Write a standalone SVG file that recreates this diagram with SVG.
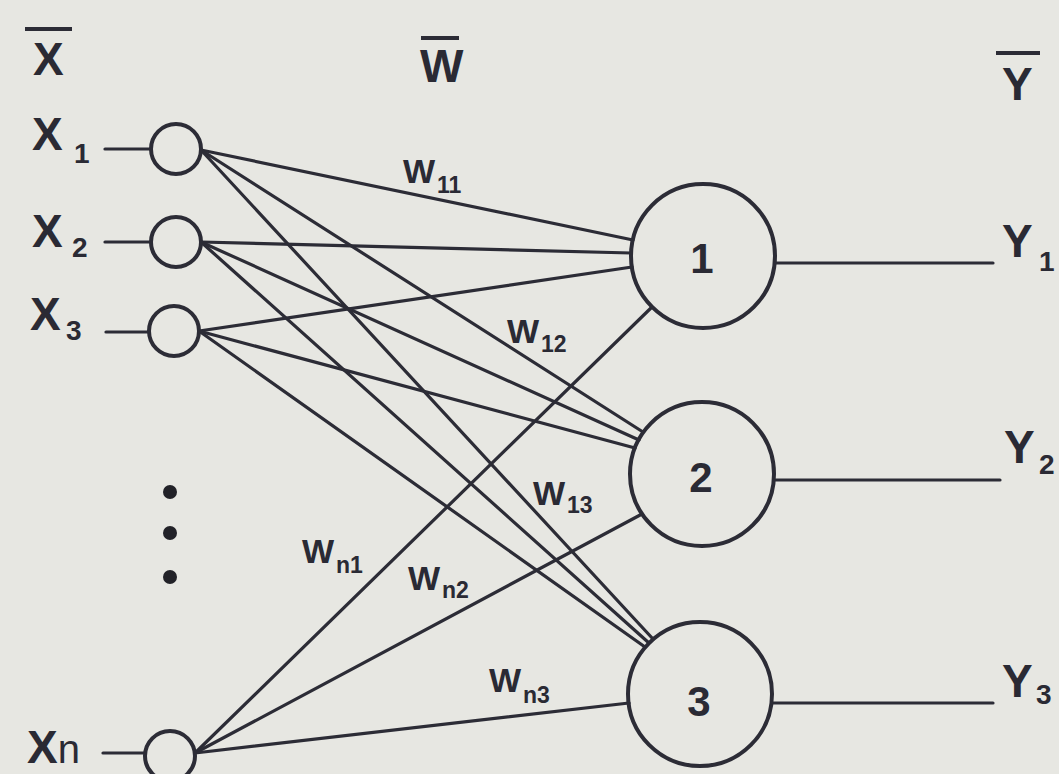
<svg xmlns="http://www.w3.org/2000/svg" width="1059" height="774" viewBox="0 0 1059 774">
<style>
.bg{fill:#e7e7e2}
.ln{stroke:#2c2c36;stroke-width:3.2;fill:none;stroke-linecap:round}
.nd{stroke:#2c2c36;stroke-width:4;fill:none}
.big{font-family:"Liberation Sans",Arial,sans-serif;font-weight:bold;font-size:46px;fill:#2a2a34}
.sub{font-family:"Liberation Sans",Arial,sans-serif;font-weight:bold;font-size:28px;fill:#2a2a34}
.num{font-family:"Liberation Sans",Arial,sans-serif;font-weight:bold;font-size:42px;fill:#2a2a34;text-anchor:middle}
.w{font-family:"Liberation Sans",Arial,sans-serif;font-weight:bold;font-size:34px;fill:#2a2a34}
.ws{font-family:"Liberation Sans",Arial,sans-serif;font-weight:bold;font-size:23px;fill:#2a2a34}
.bar{stroke:#2c2c36;stroke-width:4}
.dot{fill:#222228}
</style>
<rect class="bg" x="0" y="0" width="1059" height="774"/>

<g id="headers">
  <line class="bar" x1="25" y1="29" x2="72" y2="29"/>
  <text class="big" x="33" y="75">X</text>
  <line class="bar" x1="421" y1="38" x2="459" y2="38"/>
  <text class="big" x="420" y="82">W</text>
  <line class="bar" x1="996" y1="53" x2="1040" y2="53"/>
  <text class="big" x="1002" y="100">Y</text>
</g>

<g id="connectors">
  <line class="ln" x1="201" y1="150" x2="633" y2="240"/>
  <line class="ln" x1="201" y1="150" x2="643" y2="432"/>
  <line class="ln" x1="201" y1="150" x2="653" y2="639"/>
  <line class="ln" x1="201" y1="242" x2="631" y2="253"/>
  <line class="ln" x1="201" y1="242" x2="639" y2="440"/>
  <line class="ln" x1="201" y1="242" x2="649" y2="643"/>
  <line class="ln" x1="199" y1="331" x2="632" y2="267"/>
  <line class="ln" x1="199" y1="331" x2="635" y2="448"/>
  <line class="ln" x1="199" y1="331" x2="645" y2="647"/>
  <line class="ln" x1="195" y1="753" x2="652" y2="307"/>
  <line class="ln" x1="195" y1="753" x2="642" y2="514"/>
  <line class="ln" x1="195" y1="753" x2="629" y2="703"/>
</g>

<g id="weights">
  <text class="w" x="403" y="183">W</text><text class="ws" x="437" y="193">11</text>
  <text class="w" x="507" y="343">W</text><text class="ws" x="541" y="352">12</text>
  <text class="w" x="533" y="505">W</text><text class="ws" x="567" y="513">13</text>
  <text class="w" x="302" y="563">W</text><text class="ws" x="336" y="573">n1</text>
  <text class="w" x="408" y="590">W</text><text class="ws" x="442" y="598">n2</text>
  <text class="w" x="489" y="692">W</text><text class="ws" x="523" y="703">n3</text>
</g>

<g id="x1">
  <line class="ln" x1="105" y1="149" x2="151" y2="149"/>
  <circle class="nd" cx="176" cy="149" r="25"/>
  <text class="big" x="32" y="150">X</text><text class="sub" x="74" y="163">1</text>
</g>
<g id="x2">
  <line class="ln" x1="105" y1="242" x2="151" y2="242"/>
  <circle class="nd" cx="176" cy="242" r="25"/>
  <text class="big" x="32" y="247">X</text><text class="sub" x="72" y="257">2</text>
</g>
<g id="x3">
  <line class="ln" x1="106" y1="332" x2="149" y2="332"/>
  <circle class="nd" cx="174" cy="331" r="25"/>
  <text class="big" x="30" y="330">X</text><text class="sub" x="66" y="340">3</text>
</g>
<g id="dots">
  <circle class="dot" cx="170" cy="492" r="7"/>
  <circle class="dot" cx="170" cy="533" r="7"/>
  <circle class="dot" cx="170" cy="577" r="7"/>
</g>
<g id="xn">
  <line class="ln" x1="103" y1="753" x2="145" y2="753"/>
  <circle class="nd" cx="170" cy="756" r="25"/>
  <text class="big" x="27" y="763">X<tspan font-weight="normal" font-size="40">n</tspan></text>
</g>

<g id="n1">
  <circle class="nd" cx="703" cy="256" r="72"/>
  <text class="num" x="702" y="273">1</text>
  <line class="ln" x1="775" y1="263" x2="993" y2="263"/>
  <text class="big" x="1002" y="257">Y</text><text class="sub" x="1039" y="271">1</text>
</g>
<g id="n2">
  <circle class="nd" cx="702" cy="474" r="72"/>
  <text class="num" x="701" y="492">2</text>
  <line class="ln" x1="774" y1="480" x2="1000" y2="480"/>
  <text class="big" x="1004" y="463">Y</text><text class="sub" x="1039" y="474">2</text>
</g>
<g id="n3">
  <circle class="nd" cx="700" cy="694" r="72"/>
  <text class="num" x="699" y="716">3</text>
  <line class="ln" x1="772" y1="703" x2="993" y2="703"/>
  <text class="big" x="1002" y="697">Y</text><text class="sub" x="1036" y="704">3</text>
</g>
</svg>
